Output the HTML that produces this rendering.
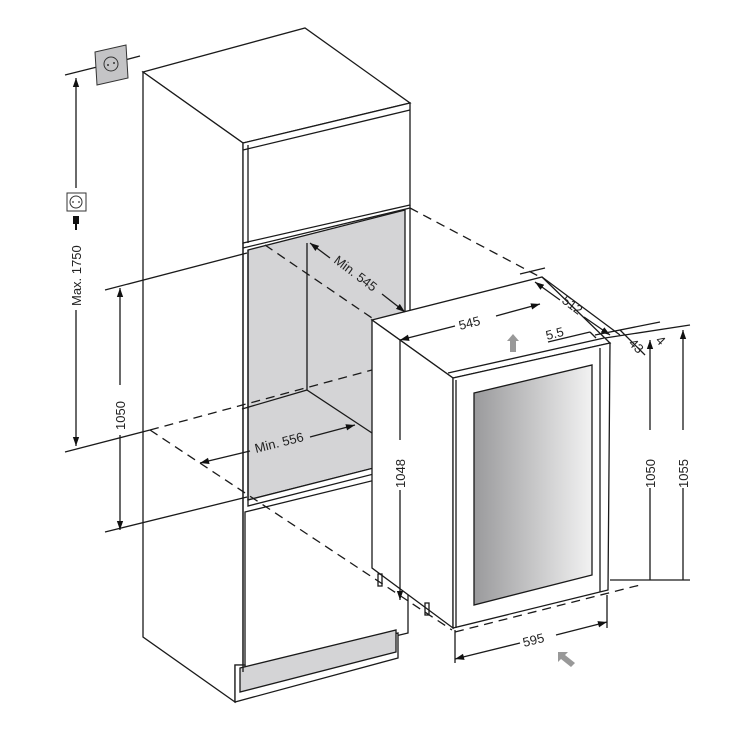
<!DOCTYPE html>
<html><head><style>html,body{margin:0;padding:0;background:#fff}svg{display:block}text{font-family:"Liberation Sans",sans-serif;font-size:13px;fill:#222}</style></head>
<body>
<svg width="729" height="729" viewBox="0 0 729 729" xmlns="http://www.w3.org/2000/svg">
<defs>
<marker id="a" viewBox="0 0 10 10" refX="10" refY="5" markerWidth="7" markerHeight="7" orient="auto-start-reverse"><path d="M0,1.5L10,5L0,8.5z" fill="#111"/></marker>
<linearGradient id="g" x1="0" x2="1" y1="0" y2="0"><stop offset="0" stop-color="#9a9a9c"/><stop offset="1" stop-color="#f2f2f2"/></linearGradient>
</defs>
<g fill="none" stroke="#1a1a1a" stroke-width="1.3">
<polygon points="143,72 305,28 410,103 243,143" fill="#fff"/>
<polygon points="143,72 243,143 243,665 235,665 235,702 143,637" fill="#fff"/>
<polygon points="243,143 410,103 410,205 243,243" fill="#fff"/>
<line x1="248" y1="145" x2="248" y2="243"/>
<line x1="243" y1="150" x2="410" y2="110"/>
<polygon points="248,250 405,210 405,460 248,500" fill="#d4d4d6"/>
<line x1="243" y1="248" x2="410" y2="208"/>
<line x1="410" y1="205" x2="410" y2="470"/>
<polyline points="307,243 307,390 372,433"/>
<line x1="242" y1="409" x2="307" y2="390"/>
<line x1="248" y1="500" x2="248" y2="250"/>
<polygon points="248,500 405,460 405,466 248,506" fill="#fff"/>
<polygon points="245,512 408,472 408,633 245,672" fill="#fff"/>
<polygon points="235,665 245,665 245,672 398,633 398,658 235,702" fill="#fff"/>
<polygon points="240,668 396,630 396,652 240,692" fill="#d4d4d6"/>
<line x1="243" y1="243" x2="243" y2="672"/>
<line x1="65" y1="75" x2="97" y2="67"/>
<line x1="125" y1="60" x2="140" y2="56"/>
<line x1="105" y1="290" x2="247" y2="253"/>
<line x1="65" y1="452" x2="150" y2="430"/>
<line x1="105" y1="532" x2="247" y2="497"/>
<line x1="76" y1="188" x2="76" y2="78" marker-end="url(#a)"/>
<line x1="76" y1="310" x2="76" y2="446" marker-end="url(#a)"/>
<line x1="120" y1="288" x2="120" y2="385" marker-start="url(#a)"/>
<line x1="120" y1="435" x2="120" y2="530" marker-end="url(#a)"/>
<g stroke-dasharray="9,6">
<line x1="150" y1="430" x2="372" y2="370"/>
<line x1="150" y1="430" x2="452" y2="630"/>
<line x1="265" y1="245" x2="372" y2="318"/>
<line x1="410" y1="208" x2="542" y2="278"/>
<line x1="455" y1="632" x2="640" y2="585"/>
</g>
<polygon points="372,320 542,277 610,343 453,378" fill="#fff"/>
<polygon points="372,320 453,378 453,628 372,568" fill="#fff"/>
<polygon points="453,378 610,343 608,590 453,628" fill="#fff"/>
<line x1="456" y1="380" x2="456" y2="628"/>
<line x1="600" y1="348" x2="600" y2="592"/>
<line x1="448" y1="373" x2="604" y2="338"/>
<polygon points="474,393 592,365 592,575 474,605" fill="url(#g)"/>
<rect x="378" y="574" width="4" height="12"/>
<rect x="425" y="603" width="4" height="12"/>
<line x1="400" y1="340" x2="455" y2="326" marker-start="url(#a)"/>
<line x1="496" y1="316" x2="540" y2="304" marker-end="url(#a)"/>
<line x1="542" y1="277" x2="620" y2="335"/>
<line x1="520" y1="274" x2="545" y2="268"/>
<line x1="535" y1="282" x2="560" y2="300" marker-start="url(#a)"/>
<line x1="584" y1="317" x2="610" y2="335" marker-end="url(#a)"/>
<line x1="548" y1="342" x2="590" y2="332"/>
<line x1="590" y1="332" x2="596" y2="338"/>
<line x1="620" y1="330" x2="645" y2="355"/>
<line x1="605" y1="338" x2="690" y2="325"/>
<line x1="595" y1="335" x2="660" y2="322"/>
<line x1="650" y1="340" x2="650" y2="430" marker-start="url(#a)"/>
<line x1="650" y1="488" x2="650" y2="580"/>
<line x1="683" y1="330" x2="683" y2="430" marker-start="url(#a)"/>
<line x1="683" y1="488" x2="683" y2="580"/>
<line x1="610" y1="580" x2="690" y2="580"/>
<line x1="400" y1="340" x2="400" y2="440"/>
<line x1="400" y1="490" x2="400" y2="600" marker-end="url(#a)"/>
<line x1="455" y1="630" x2="455" y2="663"/>
<line x1="607" y1="595" x2="607" y2="628"/>
<line x1="455" y1="659" x2="520" y2="643" marker-start="url(#a)"/>
<line x1="556" y1="635" x2="607" y2="622" marker-end="url(#a)"/>
<line x1="310" y1="243" x2="330" y2="258" marker-start="url(#a)"/>
<line x1="382" y1="294" x2="405" y2="312" marker-end="url(#a)"/>
<line x1="200" y1="463" x2="250" y2="451" marker-start="url(#a)"/>
<line x1="310" y1="437" x2="355" y2="425" marker-end="url(#a)"/>
</g>
<polygon points="513,334 519,341 516,341 516,352 510,352 510,341 507,341" fill="#999"/>
<polygon points="558,652 568,652 565,655 575,663 571,667 561,659 558,662" fill="#999"/>
<polygon points="95,52 126,45 128,78 97,85" fill="#c4c4c6" stroke="#333"/>
<circle cx="111" cy="64" r="7" fill="none" stroke="#333"/>
<circle cx="108" cy="65" r="1" fill="#333"/><circle cx="114" cy="63" r="1" fill="#333"/>
<rect x="67" y="193" width="19" height="18" fill="#fff" stroke="#333"/>
<circle cx="76" cy="202" r="6" fill="none" stroke="#333"/>
<circle cx="73" cy="202" r="0.9" fill="#333"/><circle cx="79" cy="202" r="0.9" fill="#333"/>
<rect x="73" y="216" width="6" height="8" fill="#111"/>
<line x1="76" y1="224" x2="76" y2="230" stroke="#111" stroke-width="2"/>
<text transform="translate(81,306) rotate(-90)">Max. 1750</text>
<text transform="translate(125,430) rotate(-90)">1050</text>
<text transform="translate(333,262) rotate(37)">Min. 545</text>
<text transform="translate(256,453) rotate(-14)">Min. 556</text>
<text transform="translate(460,330) rotate(-14)">545</text>
<text transform="translate(561,302) rotate(37)">512</text>
<text transform="translate(547,340) rotate(-14)">5.5</text>
<text transform="translate(628,344) rotate(45)" font-size="12">43</text>
<text transform="translate(655,341) rotate(45)" font-size="12">4</text>
<text transform="translate(405,488) rotate(-90)">1048</text>
<text transform="translate(655,488) rotate(-90)">1050</text>
<text transform="translate(688,488) rotate(-90)">1055</text>
<text transform="translate(524,647) rotate(-14)">595</text>
</svg>
</body></html>
